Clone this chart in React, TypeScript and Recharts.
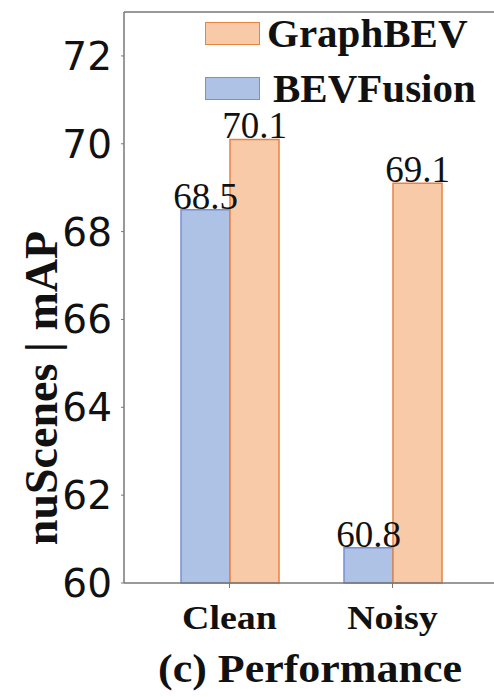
import React from 'react';
import { BarChart, Bar, XAxis, YAxis, LabelList, ReferenceLine } from 'recharts';

const categories = ['Clean', 'Noisy'];
const bevfusion = [68.5, 60.8];
const graphbev = [70.1, 69.1];
const yTicks = [60, 62, 64, 66, 68, 70, 72];
const yLabel = 'nuScenes | mAP';
const title = '(c) Performance';
const legendItems = ['GraphBEV', 'BEVFusion'];

const data = categories.map((c, i) => ({ name: c, BEVFusion: bevfusion[i], GraphBEV: graphbev[i] }));

const BLUE_FILL = '#aec2e6';
const BLUE_STROKE = '#7690d6';
const ORANGE_FILL = '#f9caa8';
const ORANGE_STROKE = '#e88240';
const SERIF = '"Liberation Serif", "Times New Roman", serif';
const SANS = '"DejaVu Sans", sans-serif';

const YTick = (props: any) => {
  const { x, y, payload } = props;
  return (
    <text x={x} y={y} dy={14} textAnchor="end" fontFamily={SANS} fontSize={39} fill="#111">
      {payload.value}
    </text>
  );
};

const XTick = (props: any) => {
  const { x, payload } = props;
  return (
    <g transform={`translate(${x},${629}) scale(1,0.9)`}>
      <text x={0} y={0} textAnchor="middle" fontFamily={SERIF} fontWeight="bold" fontSize={38} fill="#111">
        {payload.value}
      </text>
    </g>
  );
};

const LegendOverlay = () => {
  const styles = [
    { fill: ORANGE_FILL, stroke: ORANGE_STROKE, top: 22, textLeft: 267 },
    { fill: BLUE_FILL, stroke: BLUE_STROKE, top: 77, textLeft: 273 },
  ];
  return (
    <>
      {legendItems.map((label, i) => (
        <React.Fragment key={label}>
          <div
            style={{
              position: 'absolute',
              left: 205,
              top: styles[i].top,
              width: 53,
              height: 21,
              background: styles[i].fill,
              border: `1.5px solid ${styles[i].stroke}`,
            }}
          />
          <div
            style={{
              position: 'absolute',
              left: styles[i].textLeft,
              top: styles[i].top - 12,
              fontFamily: SERIF,
              fontWeight: 'bold',
              fontSize: 41,
              lineHeight: '46px',
              color: '#111',
              whiteSpace: 'nowrap',
            }}
          >
            {label}
          </div>
        </React.Fragment>
      ))}
    </>
  );
};

export default function App() {
  return (
    <div style={{ position: 'absolute', left: 0, top: 0, width: 494, height: 697, background: '#fff', overflow: 'hidden' }}>
      <BarChart
        width={530}
        height={697}
        data={data}
        margin={{ top: 12, right: 0, left: 0, bottom: 0 }}
        barGap={0}
        barSize={49}
      >
        <XAxis
          dataKey="name"
          padding={{ left: 24, right: 56 }}
          axisLine={{ stroke: '#777', strokeWidth: 1.5 }}
          tickLine={{ stroke: '#777' }}
          tickSize={5}
          tick={<XTick />}
          height={114}
          label={{
            content: () => (
              <g transform={`translate(310,682) scale(1,0.93)`}>
                <text x={0} y={0} textAnchor="middle" fontFamily={SERIF} fontWeight="bold" fontSize={44} fill="#111">
                  {title}
                </text>
              </g>
            ),
          }}
        />
        <YAxis
          width={124}
          domain={[60, 73]}
          ticks={yTicks}
          interval={0}
          axisLine={{ stroke: '#777', strokeWidth: 1.5 }}
          tickLine={{ stroke: '#777' }}
          tickSize={3}
          tickMargin={9}
          tick={<YTick />}
          label={{
            content: () => (
              <text
                x={57}
                y={388}
                transform="rotate(-90, 57, 388)"
                textAnchor="middle"
                fontFamily={SERIF}
                fontWeight="bold"
                fontSize={46}
                fill="#111"
                style={{ whiteSpace: 'pre' }}
              >
                {yLabel}
              </text>
            ),
          }}
        />
        <ReferenceLine y={73} stroke="#777" strokeWidth={1.5} />
        <Bar dataKey="BEVFusion" fill={BLUE_FILL} stroke={BLUE_STROKE} strokeWidth={1.5} isAnimationActive={false}>
          <LabelList dataKey="BEVFusion" position="top" offset={1} fontFamily={SERIF} fontSize={37} fill="#111" />
        </Bar>
        <Bar dataKey="GraphBEV" fill={ORANGE_FILL} stroke={ORANGE_STROKE} strokeWidth={1.5} isAnimationActive={false}>
          <LabelList dataKey="GraphBEV" position="top" offset={1} fontFamily={SERIF} fontSize={37} fill="#111" />
        </Bar>
      </BarChart>
      <LegendOverlay />
    </div>
  );
}
